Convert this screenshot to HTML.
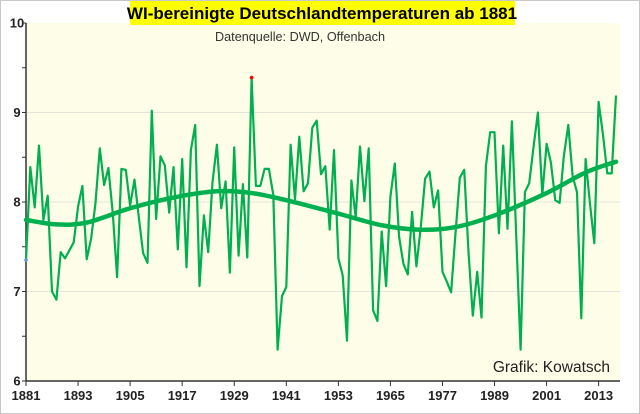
<!DOCTYPE html>
<html><head><meta charset="utf-8"><style>
html,body{margin:0;padding:0;background:#fff;}
svg{display:block;font-family:"Liberation Sans",sans-serif;}
</style></head><body>
<svg id="chart" width="640" height="414" viewBox="0 0 640 414">
<rect x="0.5" y="0.5" width="639" height="413" fill="#fff" stroke="#c8c8c8"/>
<rect x="26" y="23" width="594" height="358" fill="#fefee8"/>
<g id="grid"></g>
<g id="axes"></g>
<g id="series"></g>
<rect x="130" y="1" width="385" height="24" fill="#ffff00"/>
<text x="322" y="19" text-anchor="middle" font-size="17" font-weight="bold" fill="#000">WI-bereinigte Deutschlandtemperaturen ab 1881</text>
<text x="300" y="41" text-anchor="middle" font-size="12.5" fill="#333" textLength="170" lengthAdjust="spacingAndGlyphs">Datenquelle: DWD, Offenbach</text>
<text x="610" y="372" text-anchor="end" font-size="15.5" fill="#222">Grafik: Kowatsch</text>
</svg>
<script>
const startYear = 1881;
const temps = [7.35,8.39,7.94,8.63,7.80,8.07,7.00,6.91,7.44,7.37,7.46,7.55,7.95,8.18,7.36,7.59,7.98,8.60,8.19,8.38,7.87,7.16,8.37,8.36,7.96,8.25,7.83,7.43,7.32,
9.02,7.81,8.51,8.41,7.88,8.39,7.47,8.48,7.27,8.58,8.86,7.06,7.85,7.44,8.22,8.64,7.93,8.23,7.21,8.61,7.40,8.20,7.38,9.39,8.18,8.18,8.37,8.37,8.08,6.35,6.95,7.05,8.64,8.03,8.73,8.12,8.21,8.83,8.91,8.31,8.40,7.69,8.58,7.37,7.18,6.45,8.24,7.83,8.62,8.01,8.60,6.79,6.67,7.67,7.06,8.06,8.43,7.61,7.31,7.19,7.89,7.28,7.72,8.26,8.34,7.94,8.13,7.22,7.11,6.99,7.65,8.27,8.36,7.44,6.73,7.22,6.71,8.40,8.78,8.78,7.65,8.63,7.70,8.90,7.63,6.35,8.11,8.21,8.62,9.00,8.08,8.65,8.44,8.02,7.99,8.52,8.86,8.29,8.11,6.70,8.48,7.98,7.54,9.12,8.75,8.32,8.32,9.19];
const trendYears = [1881,1888,1895,1905,1915,1925,1933,1941,1953,1963,1972,1980,1989,2001,2010,2017];
const trendVals = [7.80,7.75,7.77,7.93,8.05,8.12,8.10,8.02,7.87,7.74,7.69,7.72,7.85,8.10,8.33,8.45];
const yTicks = [6,7,8,9,10];
const xTickStep = 12;

const NS="http://www.w3.org/2000/svg";
const X0=26, X1=616, Y0=381, Y1=23, YMIN=6, YMAX=10;
const n=temps.length;
const xs = y => X0 + (y-startYear)*(X1-X0)/(n-1);
const ys = v => Y0 - (v-YMIN)*(Y0-Y1)/(YMAX-YMIN);
function mk(tag, attrs, parent){const e=document.createElementNS(NS,tag);for(const k in attrs)e.setAttribute(k,attrs[k]);parent.appendChild(e);return e;}
const grid=document.getElementById('grid'), axes=document.getElementById('axes'), series=document.getElementById('series');

yTicks.forEach(v=>{
  if(v>YMIN && v<YMAX){const g=mk('line',{x1:X0,x2:620,y1:ys(v),y2:ys(v),stroke:'#e4e4dc','stroke-width':1},grid);
  
  }
  const t=mk('text',{x:17,y:ys(v)+4.5,'text-anchor':'middle','font-size':13,'font-weight':'bold',fill:'#222'},axes);
  t.textContent=v;
  
  
});
for(let v=YMIN; v<=YMAX; v+=0.5){
  const tk=mk('line',{x1:X0-4,x2:X0,y1:ys(v),y2:ys(v),stroke:'#333','stroke-width':1},axes);
  
  
}
const ya=mk('line',{x1:X0,x2:X0,y1:Y1,y2:Y0,stroke:'#333','stroke-width':1.5},axes);


const xa=mk('line',{x1:X0,x2:620,y1:Y0,y2:Y0,stroke:'#333','stroke-width':1.5},axes);


for(let yr=startYear; yr<startYear+n; yr+=xTickStep){
  const tk=mk('line',{x1:xs(yr),x2:xs(yr),y1:Y0,y2:Y0+5,stroke:'#333','stroke-width':1},axes);
  
  
  const t=mk('text',{x:xs(yr),y:400,'text-anchor':'middle','font-size':13,'font-weight':'bold',fill:'#222'},axes);
  t.textContent=yr;
  
  
}
// series line
const pts=temps.map((v,i)=>xs(startYear+i).toFixed(1)+','+ys(v).toFixed(1)).join(' ');
const pl=mk('polyline',{points:pts,fill:'none',stroke:'#00b050','stroke-width':2.2,'stroke-linejoin':'round'},series);


// trend curve (catmull-rom)
const tp=trendYears.map((y,i)=>[xs(y),ys(trendVals[i])]);
let d='M'+tp[0][0]+','+tp[0][1];
for(let i=0;i<tp.length-1;i++){
  const p0=tp[Math.max(0,i-1)],p1=tp[i],p2=tp[i+1],p3=tp[Math.min(tp.length-1,i+2)];
  d+=' C'+(p1[0]+(p2[0]-p0[0])/6)+','+(p1[1]+(p2[1]-p0[1])/6)+' '+(p2[0]-(p3[0]-p1[0])/6)+','+(p2[1]-(p3[1]-p1[1])/6)+' '+p2[0]+','+p2[1];
}
const tr=mk('path',{d:d,fill:'none',stroke:'#00b050','stroke-width':4.5,'stroke-linecap':'round'},series);


// markers: first point and max point
const first=mk('circle',{cx:xs(startYear),cy:ys(temps[0]),r:1.8,fill:'#5b9bd5'},series);


const mi=temps.indexOf(Math.max(...temps));
const mx=mk('circle',{cx:xs(startYear+mi),cy:ys(temps[mi]),r:1.8,fill:'#ff0000'},series);


</script>
</body></html>
